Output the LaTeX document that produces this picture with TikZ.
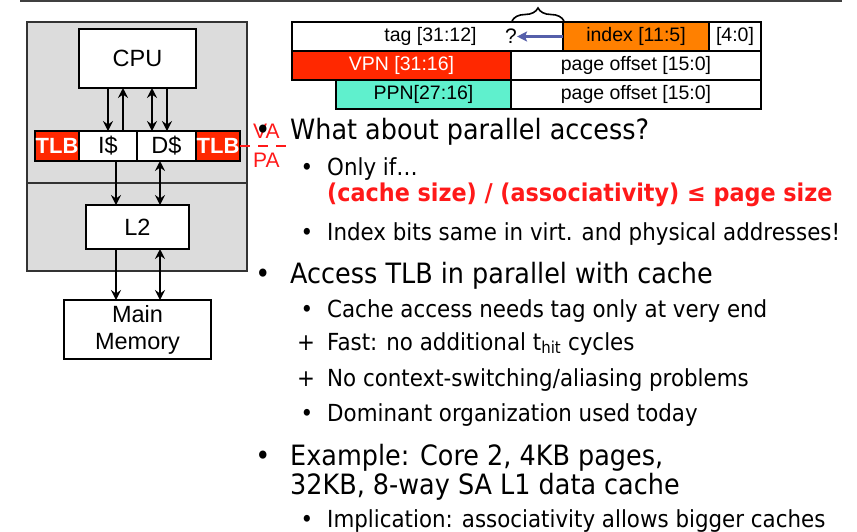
\documentclass[tikz,border=0pt]{standalone}
\usepackage{fontspec}
\usetikzlibrary{arrows.meta,decorations.pathreplacing}
\newfontfamily\arialf{Liberation Sans}
\newfontfamily\tahf{DejaVu Sans}[FakeStretch=0.91]
\definecolor{tlbred}{RGB}{255,40,0}
\definecolor{idxorange}{RGB}{255,128,0}
\definecolor{ppnteal}{RGB}{95,240,205}
\definecolor{panelgrey}{RGB}{220,220,220}
\definecolor{txtred}{RGB}{255,25,25}
\definecolor{arrowblue}{RGB}{85,95,170}
\begin{document}
\begin{tikzpicture}[x=1pt,y=-1pt,
  box/.style={draw=black,line width=2.6pt,fill=white,inner sep=0pt,outer sep=0pt,font=\arialf\fontsize{23.5}{27}\selectfont},
  tlbbox/.style={box,fill=tlbred,text=white,font=\arialf\bfseries\fontsize{22}{26}\selectfont},
  field/.style={draw=black,line width=2.4pt,fill=white,inner sep=0pt,outer sep=0pt,anchor=north west,minimum height=29pt,font=\arialf\fontsize{19.5}{22}\selectfont},
  tipk/.tip={Stealth[length=10pt,width=10pt,inset=3.5pt]},
  conn/.style={line width=2.3pt,-tipk},
  biconn/.style={line width=2.3pt,tipk-tipk},
  lone/.style={inner sep=0pt,anchor=base west,font=\tahf\fontsize{28}{32}\selectfont},
  ltwo/.style={inner sep=0pt,anchor=base west,font=\tahf\fontsize{23.5}{28}\selectfont},
  bulone/.style={inner sep=0pt,anchor=base,font=\tahf\fontsize{28}{32}\selectfont},
  bultwo/.style={inner sep=0pt,anchor=base,font=\tahf\fontsize{23.5}{28}\selectfont},
  redlbl/.style={inner sep=0pt,anchor=base west,text=txtred,font=\arialf\fontsize{21}{24}\selectfont}
]
\useasboundingbox (0,0) rectangle (857,531);
% top rule
\draw[line width=2pt,black!75] (20,1) -- (842,1);

% ---- left panel ----
\draw[fill=panelgrey,draw=black!80,line width=1.2pt] (27,22) rectangle (247,271);
\draw[draw=black!80,line width=1.2pt] (27,183) -- (247,183);

\node[box,minimum width=117pt,minimum height=59pt] (cpu) at (137.5,58.5) {CPU};
\node[tlbbox,minimum width=44pt,minimum height=30pt] (tlbl) at (57,146) {TLB};
\node[box,minimum width=58pt,minimum height=30pt] (ic) at (108,146) {I\$};
\node[box,minimum width=59pt,minimum height=30pt] (dc) at (166.5,146) {D\$};
\node[tlbbox,minimum width=44pt,minimum height=30pt] (tlbr) at (218,146) {TLB};
\node[box,minimum width=103pt,minimum height=44pt] (ltwo) at (137.5,227) {L2};
\node[box,minimum width=147pt,minimum height=59pt,align=center] (mem) at (137.5,329.5) {Main\\Memory};

\coordinate (xa) at (108,0);
\coordinate (xb) at (123,0);
\coordinate (xc) at (152,0);
\coordinate (xd) at (167,0);
\coordinate (xe) at (116,0);
\coordinate (xf) at (160,0);

\draw[conn] (cpu.south -| xa) -- (ic.north -| xa);
\draw[conn] (ic.north -| xb) -- (cpu.south -| xb);
\draw[biconn] (cpu.south -| xc) -- (dc.north -| xc);
\draw[conn] (cpu.south -| xd) -- (dc.north -| xd);
\draw[conn] (ic.south -| xe) -- (ltwo.north -| xe);
\draw[biconn] (dc.south -| xf) -- (ltwo.north -| xf);
\draw[conn] (ltwo.south -| xe) -- (mem.north -| xe);
\draw[biconn] (ltwo.south -| xf) -- (mem.north -| xf);

% VA / PA
\coordinate (dashend) at (289,146);
\draw[txtred,line width=2pt,dash pattern=on 10pt off 8pt] (tlbr.east) -- (dashend);
\node[redlbl] (va) at (253,138) {VA};
\node[redlbl] (pa) at (253,167) {PA};

% ---- address fields ----
\node[field,minimum width=271pt] (tag) at (292,22) {\hspace*{6pt}tag [31:12]};
\node[field,minimum width=146pt,fill=idxorange] (idx) at (563,22) {index [11:5]};
\node[field,minimum width=52pt] (off) at (709,22) {[4:0]};
\node[field,minimum width=219pt,fill=tlbred,text=white] (vpn) at (292,51) {VPN [31:16]};
\node[field,minimum width=250pt] (pgo) at (511,51) {page offset [15:0]};
\node[field,minimum width=175pt,fill=ppnteal] (ppn) at (336,80) {PPN[27:16]};
\node[field,minimum width=250pt] (pgt) at (511,80) {page offset [15:0]};
\node[inner sep=0pt,font=\arialf\fontsize{21}{24}\selectfont] (q) at (511,36.5) {?};
\draw[arrowblue,line width=2.8pt,-{Stealth[length=10pt,width=10pt,inset=2pt]}] (idx.west) -- (q.east);
\draw[line width=1.6pt,decorate,decoration={brace,amplitude=13pt}] (512,21) -- (564,21);

% ---- text ----
\node[bulone] (b1) at (263,139) {•};
\node[lone] (t1) at (290,139) {What about parallel access?};
\node[bultwo] (b2) at (307,175) {•};
\node[ltwo] (t2) at (327,175) {Only if…};
\node[ltwo,text=txtred,font=\tahf\bfseries\fontsize{24.5}{28}\selectfont] (t3) at (327,201) {(cache size) / (associativity) ≤ page size};
\node[bultwo] (b4) at (307,240) {•};
\node[ltwo] (t4) at (327,240) {Index bits same in virt. and physical addresses!};
\node[bulone] (b5) at (263,283) {•};
\node[lone] (t5) at (290,283) {Access TLB in parallel with cache};
\node[bultwo] (b6) at (307,317) {•};
\node[ltwo] (t6) at (327,317) {Cache access needs tag only at very end};
\node[bultwo] (b7) at (306,350) {+};
\node[ltwo] (t7) at (327,350) {Fast: no additional t\textsubscript{hit} cycles};
\node[bultwo] (b8) at (306,386) {+};
\node[ltwo] (t8) at (327,386) {No context-switching/aliasing problems};
\node[bultwo] (b9) at (307,421) {•};
\node[ltwo] (t9) at (327,421) {Dominant organization used today};
\node[bulone] (b10) at (263,465) {•};
\node[lone] (t10) at (290,465) {Example: Core 2, 4KB pages,};
\node[lone] (t11) at (290,494) {32KB, 8-way SA L1 data cache};
\node[bultwo] (b12) at (307,527) {•};
\node[ltwo] (t12) at (327,527) {Implication: associativity allows bigger caches};
\end{tikzpicture}
\end{document}
